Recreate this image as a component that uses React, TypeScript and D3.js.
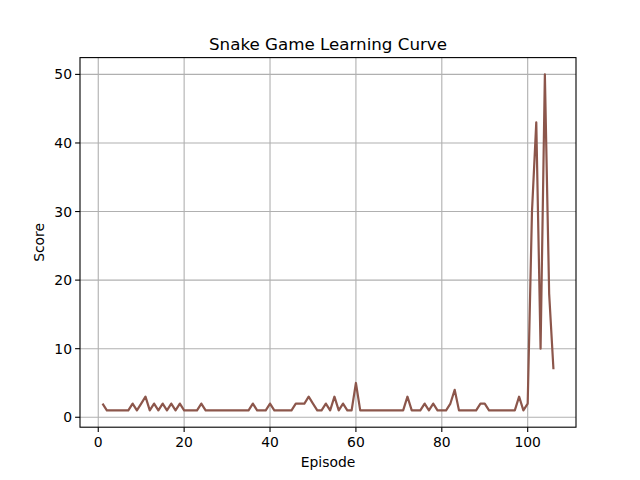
import * as d3 from 'd3'

const episodes = d3.range(1, 107)
const scores = [
  2, 1, 1, 1, 1, 1, 1, 2, 1, 2, 3, 1, 2, 1, 2, 1, 2, 1, 2, 1,
  1, 1, 1, 2, 1, 1, 1, 1, 1, 1, 1, 1, 1, 1, 1, 2, 1, 1, 1, 2,
  1, 1, 1, 1, 1, 2, 2, 2, 3, 2, 1, 1, 2, 1, 3, 1, 2, 1, 1, 5,
  1, 1, 1, 1, 1, 1, 1, 1, 1, 1, 1, 3, 1, 1, 1, 2, 1, 2, 1, 1,
  1, 2, 4, 1, 1, 1, 1, 1, 2, 2, 1, 1, 1, 1, 1, 1, 1, 3, 1, 2,
  30, 43, 10, 50, 18, 7,
]
const xTicks = [0, 20, 40, 60, 80, 100]
const yTicks = [0, 10, 20, 30, 40, 50]

export default function App() {
  const W = 640, H = 480
  const L = 80, R = 576, T = 57.6, B = 427.2
  const x = d3.scaleLinear([-4.25, 111.25], [L, R])
  const y = d3.scaleLinear([-1.45, 52.45], [B, T])
  const line = d3.line<number>().x((_, i) => x(episodes[i])).y(d => y(d))
  const font = 'DejaVu Sans, sans-serif'
  return (
    <svg width={W} height={H} style={{ position: 'absolute', left: 0, top: 0, background: '#fff' }} fontFamily={font}>
      {xTicks.map(t => (
        <g key={'x' + t}>
          <line x1={x(t)} x2={x(t)} y1={T} y2={B} stroke="#b0b0b0" strokeWidth={1.1} />
          <line x1={x(t)} x2={x(t)} y1={B} y2={B + 4.9} stroke="#000" strokeWidth={1.1} />
          <text x={x(t)} y={B + 20} fontSize={13.9} textAnchor="middle">{t}</text>
        </g>
      ))}
      {yTicks.map(t => (
        <g key={'y' + t}>
          <line x1={L} x2={R} y1={y(t)} y2={y(t)} stroke="#b0b0b0" strokeWidth={1.1} />
          <line x1={L - 4.9} x2={L} y1={y(t)} y2={y(t)} stroke="#000" strokeWidth={1.1} />
          <text x={L - 8} y={y(t) + 5} fontSize={13.9} textAnchor="end">{t}</text>
        </g>
      ))}
      <path d={line(scores) ?? ''} fill="none" stroke="#8c564b" strokeWidth={2.2} strokeLinejoin="round" />
      <rect x={L} y={T} width={R - L} height={B - T} fill="none" stroke="#000" strokeWidth={1.1} />
      <text x={(L + R) / 2} y={T - 8} fontSize={16.7} textAnchor="middle">Snake Game Learning Curve</text>
      <text x={(L + R) / 2} y={467} fontSize={13.9} textAnchor="middle">Episode</text>
      <text transform={`translate(44,${(T + B) / 2}) rotate(-90)`} fontSize={13.9} textAnchor="middle">Score</text>
    </svg>
  )
}
